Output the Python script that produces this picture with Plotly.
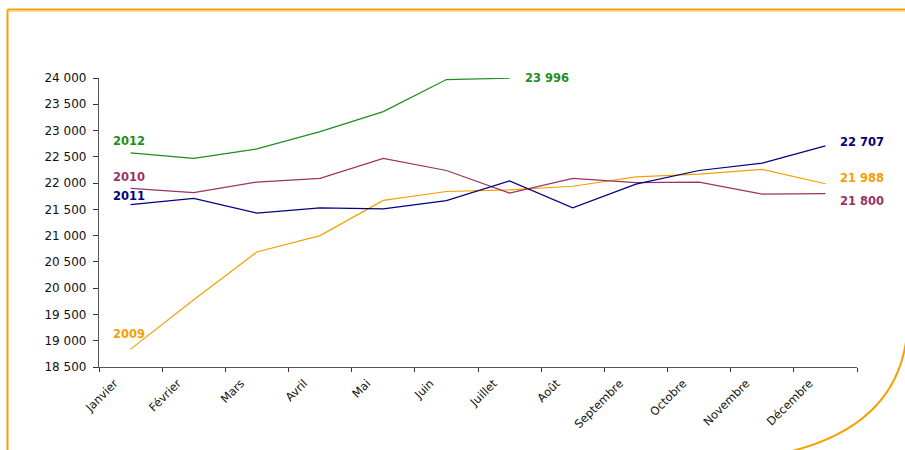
import plotly.graph_objects as go

months = ["Janvier", "Février", "Mars", "Avril", "Mai", "Juin", "Juillet",
          "Août", "Septembre", "Octobre", "Novembre", "Décembre"]

v2009 = [18840, 19780, 20690, 21000, 21670, 21840, 21870, 21940, 22120, 22170, 22260, 21988]
v2010 = [21900, 21820, 22020, 22090, 22470, 22240, 21810, 22090, 22010, 22020, 21790, 21800]
v2011 = [21590, 21710, 21430, 21530, 21510, 21665, 22040, 21530, 21980, 22240, 22380, 22707]
v2012 = [22575, 22470, 22650, 22980, 23360, 23970, 23996]

series = [
    ("2009", v2009, "#F5A000"),
    ("2010", v2010, "#993366"),
    ("2011", v2011, "#000080"),
    ("2012", v2012, "#1E8C1E"),
]

y_ticks = [18500, 19000, 19500, 20000, 20500, 21000, 21500, 22000, 22500, 23000, 23500, 24000]

W, H = 905, 450
L, R, T, B = 99, 857, 78, 367

fig = go.Figure()
for name, vals, col in series:
    fig.add_trace(go.Scatter(x=months[:len(vals)], y=vals, mode="lines", name=name,
                             line=dict(color=col, width=1.2), showlegend=False,
                             hoverinfo="skip"))

def fmt(v):
    return f"{v:,}".replace(",", " ")

def px(x):
    return (x - L) / (R - L)

def py(y):
    return (B - y) / (B - T)

FONT = "DejaVu Sans, Liberation Sans, Arial"

# series name labels (left) and last values (right), pixel placement
left_pix = {"2012": 141, "2010": 177, "2011": 196, "2009": 334}
right_pix = {"2012": (523, 78), "2011": (838, 142), "2009": (838, 178), "2010": (838, 201)}
for name, vals, col in series:
    fig.add_annotation(x=px(111), y=py(left_pix[name]), xref="paper", yref="paper",
                       text=f"<b>{name}</b>", showarrow=False, xanchor="left", yanchor="middle",
                       font=dict(family=FONT, size=11.5, color=col))
    rx, ry = right_pix[name]
    fig.add_annotation(x=px(rx), y=py(ry), xref="paper", yref="paper",
                       text=f"<b>{fmt(vals[-1])}</b>", showarrow=False,
                       xanchor="left", yanchor="middle",
                       font=dict(family=FONT, size=11.5, color=col))

orange = "#F5A000"
shapes = [
    dict(type="line", xref="paper", yref="paper", x0=px(7.5), x1=px(906), y0=py(9.5), y1=py(9.5),
         line=dict(color=orange, width=2)),
    dict(type="line", xref="paper", yref="paper", x0=px(7.5), x1=px(906), y0=py(11.5), y1=py(11.5),
         line=dict(color="#FAD9A0", width=1)),
    dict(type="line", xref="paper", yref="paper", x0=px(7.5), x1=px(7.5), y0=py(9.5), y1=py(452),
         line=dict(color=orange, width=2)),
    dict(type="path", xref="paper", yref="paper",
         path=f"M {px(792)},{py(451)} Q {px(893)},{py(425)} {px(906)},{py(342)}",
         line=dict(color=orange, width=2)),
]

fig.update_layout(
    width=W, height=H,
    margin=dict(l=L, r=W - R, t=T, b=H - B),
    paper_bgcolor="white", plot_bgcolor="white",
    separators=", ",
    shapes=shapes,
    font=dict(family=FONT, color="#222"),
    xaxis=dict(type="category", categoryorder="array", categoryarray=months,
               range=[-0.5, 11.5], tickson="boundaries", ticks="outside", ticklen=4,
               tickcolor="#333", showline=True, linecolor="#555", linewidth=1.3,
               showgrid=False, zeroline=False, tickangle=-45,
               ticklabelshift=-16, ticklabelstandoff=4,
               tickfont=dict(size=11.5, color="#111")),
    yaxis=dict(range=[18500, 24000], tickvals=y_ticks,
               ticktext=[fmt(v) for v in y_ticks], ticks="outside", ticklen=5,
               tickcolor="#333", showline=True, linecolor="#555", linewidth=1.3,
               showgrid=False, zeroline=False, ticklabelstandoff=4,
               tickfont=dict(size=12, color="#111")),
)

fig.write_html("out.html", config={"displayModeBar": False},
               post_script="document.body.style.margin='0';")
